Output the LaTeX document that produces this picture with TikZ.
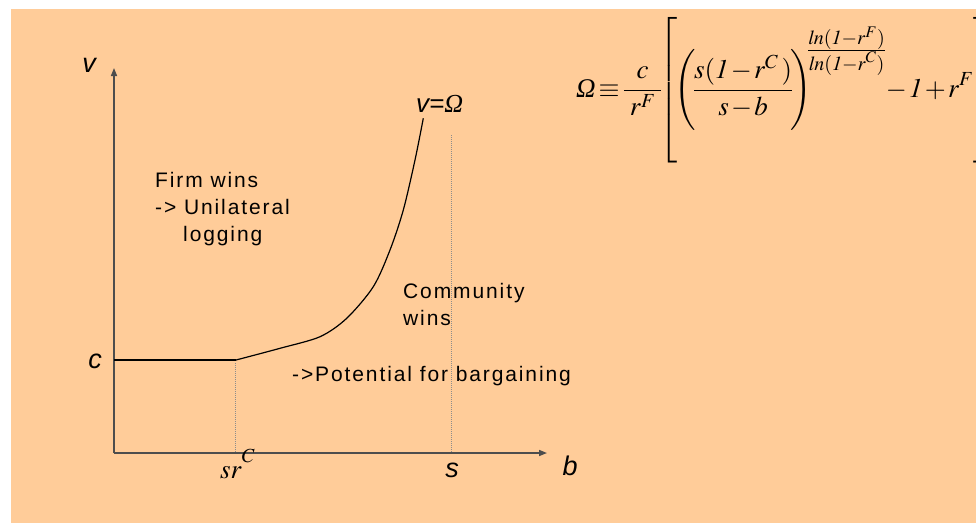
\documentclass[tikz,border=0pt]{standalone}
\usepackage{mathptmx}
\usepackage[no-math]{fontspec}
\usetikzlibrary{
	positioning,
	arrows.meta
}
\newfontfamily\arialfont{Liberation Sans}
\newfontfamily\arialspaced[LetterSpace=9]{Liberation Sans}
\newfontfamily\timesfont{Liberation Serif}
\definecolor{slidecolor}{HTML}{FFCC99}
\definecolor{axiscolor}{HTML}{4D4D4D}
\definecolor{guidecolor}{HTML}{8C8C8C}
\newcommand{\bigOmega}{\mbox{\timesfont\itshape Ω}}
\tikzset{
	axisline/.style={
		-{Triangle[length=8pt,width=6pt]},
		draw=axiscolor,
		line width=1.5pt
	},
	curveline/.style={
		draw=black,
		line width=1.2pt
	},
	guideline/.style={
		draw=guidecolor,
		line width=0.8pt,
		dash pattern=on 1pt off 1pt
	},
	axislabel/.style={
		inner sep=0pt,
		font=\fontsize{27}{32}\selectfont\arialfont\itshape
	},
	regionlabel/.style={
		inner sep=0pt,
		anchor=base west,
		align=left,
		font=\fontsize{21}{27}\selectfont\arialspaced
	},
	mathlabel/.style={
		inner sep=0pt,
		anchor=base west,
		font=\fontsize{27}{32}\selectfont
	}
}

\begin{document}
\begin{tikzpicture}[x=1pt, y=-1pt]
	
	% Slide
	\useasboundingbox (0,0) rectangle (976,523);
	\clip (0,0) rectangle (976,523);
	\fill[white] (0,0) rectangle (976,523);
	\fill[slidecolor] (11,9) rectangle (976,523);
	
	% Axes
	\coordinate (origin) at (114,453);
	\coordinate (vtop) at (114,68);
	\coordinate (bend) at (547,453);
	\draw[axisline] (origin) -- (vtop);
	\draw[axisline] (origin) -- (bend);
	\node[axislabel] (vlabel) at (89,65) {v};
	\node[axislabel] (blabel) at (570,466) {b};
	\node[axislabel] (clabel) at (95,361) {c};
	\node[axislabel] (slabel) at (452,470) {s};
	\node[mathlabel] (srlabel) at (220,478) {$s r^{\raisebox{6pt}{$\scriptstyle C$}}$};
	
	% Boundary v = c, then v = Omega
	\coordinate (clevel) at (114,360);
	\coordinate (kink) at (236,360);
	\draw[curveline] (clevel) -- (kink);
	\draw[curveline] plot[smooth] coordinates {
		(236,360) (280,348.3) (320,336.7) (346.7,318.3) (373.3,286.7)
		(390,250) (403.3,210) (415,160) (423.3,118.3)};
	\node[mathlabel, font=\fontsize{26}{30}\selectfont] (omegalabel) at (416,112)
	{{\arialfont\itshape v=}\bigOmega};
	
	% Guides at sr^C and s
	\coordinate (srtop) at (235,363);
	\coordinate (srfoot) at (235,453);
	\coordinate (stop) at (451,135);
	\coordinate (sfoot) at (451,453);
	\draw[guideline] (srtop) -- (srfoot);
	\draw[guideline] (stop) -- (sfoot);
	
	% Regions
	\node[regionlabel] (firm) at (155,241)
	{Firm wins\\-> Unilateral\\\hspace*{28pt}logging};
	\node[regionlabel] (community) at (403,325) {Community\\wins};
	\node[regionlabel] (bargain) at (292,381) {->Potential for bargaining};
	
	% Definition of Omega
	\node[mathlabel] (omegadef) at (576,97)
	{$\displaystyle \medmuskip=1.5mu \bigOmega\!\equiv\!\frac{c}{\;r^{F}\;}\!\!
		\left[\rule[-66pt]{0pt}{147pt}\!\!\left(\rule[-33pt]{0pt}{82pt}\!\frac{s(\mathit{1}-r^{C}\,)}{s-b}\!\right)^{\!\!
			\frac{\scriptstyle \mathit{ln}(\mathit{1}-r^{F})}{\scriptstyle \mathit{ln}(\mathit{1}-r^{C})}}
		\!-\mathit{1}+r^{F}\right]$};
	
\end{tikzpicture}
\end{document}
